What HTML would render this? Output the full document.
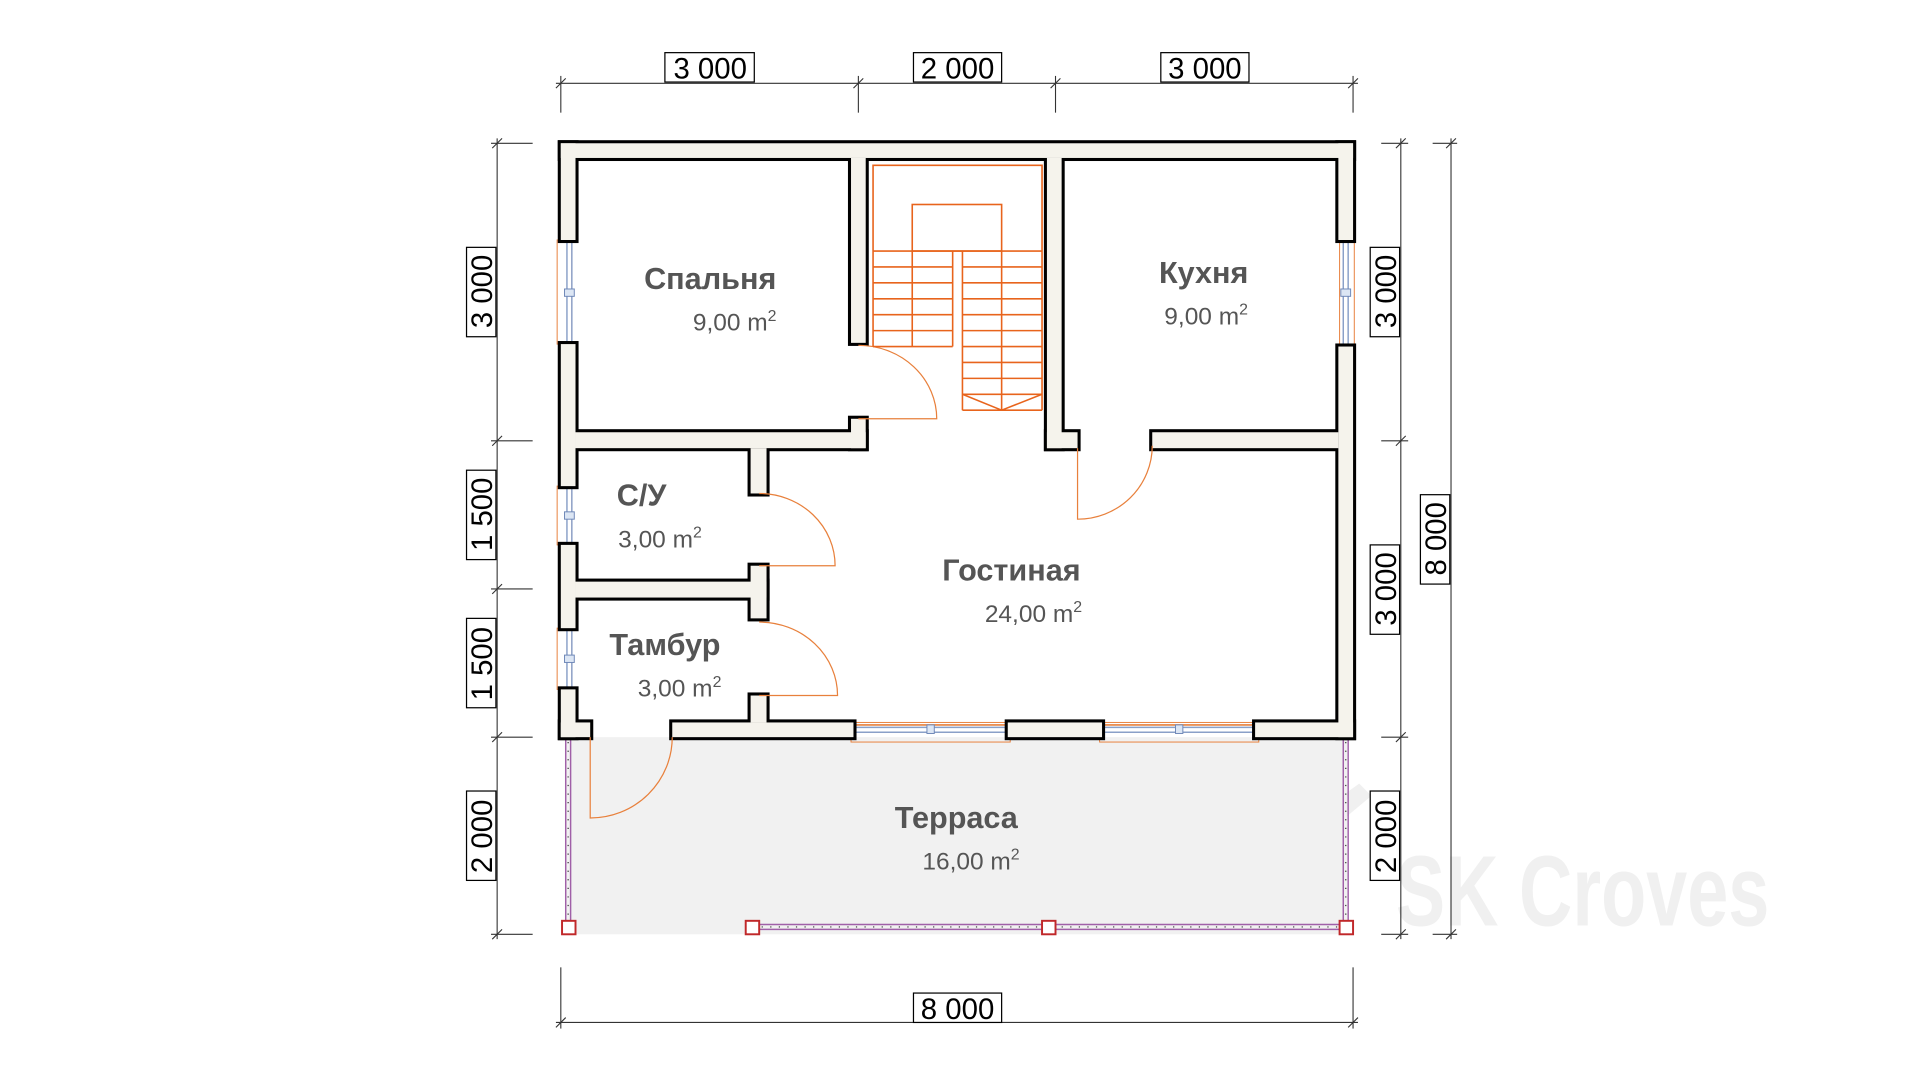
<!DOCTYPE html>
<html><head><meta charset="utf-8"><style>html,body{margin:0;padding:0;background:#fff;width:1920px;height:1080px;overflow:hidden}svg{display:block}</style></head>
<body>
<svg width="1920" height="1080" viewBox="0 0 1568 882" xmlns="http://www.w3.org/2000/svg" font-family="Liberation Sans, Arial, sans-serif">
<!-- watermark -->
<g fill="#f0f0f0">
<text x="1140" y="756" font-size="82" font-weight="bold" textLength="305" lengthAdjust="spacingAndGlyphs">SK Croves</text>
<polygon points="1040,690 1110,640 1120,650 1060,700 1060,755 1040,755"/>
</g>
<!-- terrace -->
<rect x="462" y="602" width="638" height="161" fill="#f1f1f1"/>
<g stroke="#a060a8" stroke-width="1.2" fill="none">
<line x1="462" y1="602" x2="462" y2="752"/><line x1="466" y1="602" x2="466" y2="752"/>
<line x1="1097" y1="602" x2="1097" y2="752"/><line x1="1101" y1="602" x2="1101" y2="752"/>
<line x1="619" y1="755" x2="1094" y2="755"/><line x1="619" y1="759" x2="1094" y2="759"/>
</g>
<g stroke="#555" stroke-width="1.2" stroke-dasharray="1 6">
<line x1="464" y1="606" x2="464" y2="750"/><line x1="1099" y1="606" x2="1099" y2="750"/><line x1="622" y1="757" x2="1092" y2="757"/>
</g>
<g fill="#fff" stroke="#c0282a" stroke-width="1.6">
<rect x="459" y="752" width="11" height="11"/><rect x="609" y="752" width="11" height="11"/><rect x="851" y="752" width="11" height="11"/><rect x="1094" y="752" width="11" height="11"/>
</g>
<!-- windows -->
<g stroke="#e8803c" stroke-width="0.8" fill="none">
<rect x="455" y="196" width="12" height="85"/><rect x="455" y="397" width="12" height="48"/><rect x="455" y="513" width="12" height="50"/>
<rect x="1094" y="196" width="12" height="87"/>
<rect x="695" y="590" width="130" height="16"/><rect x="898" y="590" width="130" height="16"/>
</g>
<g stroke="#8aa0c8" stroke-width="1.2" fill="none">
<line x1="463" y1="196" x2="463" y2="281"/><line x1="467" y1="196" x2="467" y2="281"/>
<line x1="463" y1="397" x2="463" y2="445"/><line x1="467" y1="397" x2="467" y2="445"/>
<line x1="463" y1="513" x2="463" y2="563"/><line x1="467" y1="513" x2="467" y2="563"/>
<line x1="1097" y1="196" x2="1097" y2="283"/><line x1="1101" y1="196" x2="1101" y2="283"/>
<line x1="697" y1="594" x2="823" y2="594"/><line x1="697" y1="598" x2="823" y2="598"/>
<line x1="900" y1="594" x2="1025" y2="594"/><line x1="900" y1="598" x2="1025" y2="598"/>
</g>
<g stroke="#e8803c" stroke-width="1.3"><line x1="697" y1="592" x2="823" y2="592"/><line x1="900" y1="592" x2="1025" y2="592"/></g>
<g fill="#dce6f4" stroke="#6f88b8" stroke-width="0.8">
<rect x="461" y="236" width="8" height="6"/><rect x="461" y="418" width="8" height="6"/><rect x="461" y="535" width="8" height="6"/><rect x="1095" y="236" width="8" height="6"/>
<rect x="757" y="592" width="6" height="7"/><rect x="960" y="592" width="6" height="7"/>
</g>
<!-- walls: stroke layer -->
<g stroke="#000" stroke-width="5" fill="#000" stroke-linejoin="miter">
<rect x="458" y="117" width="647" height="12"/>
<rect x="458" y="117" width="12" height="79"/><rect x="458" y="281" width="12" height="116"/><rect x="458" y="445" width="12" height="68"/><rect x="458" y="563" width="12" height="39"/>
<rect x="1093" y="117" width="12" height="79"/><rect x="1093" y="283" width="12" height="319"/>
<rect x="458" y="590" width="24" height="12"/><rect x="549" y="590" width="148" height="12"/><rect x="823" y="590" width="77" height="12"/><rect x="1025" y="590" width="80" height="12"/>
<rect x="695" y="129" width="12" height="151"/><rect x="695" y="342" width="12" height="24"/>
<rect x="470" y="353" width="237" height="13"/>
<rect x="855" y="129" width="12" height="237"/><rect x="855" y="353" width="25" height="13"/><rect x="941" y="353" width="152" height="13"/>
<rect x="613" y="366" width="13" height="37"/><rect x="613" y="462" width="13" height="43"/>
<rect x="470" y="475" width="156" height="13"/>
<rect x="613" y="568" width="13" height="22"/>
</g>
<g fill="#f5f3ec" stroke="none">
<rect x="458" y="117" width="647" height="12"/>
<rect x="458" y="117" width="12" height="79"/><rect x="458" y="281" width="12" height="116"/><rect x="458" y="445" width="12" height="68"/><rect x="458" y="563" width="12" height="39"/>
<rect x="1093" y="117" width="12" height="79"/><rect x="1093" y="283" width="12" height="319"/>
<rect x="458" y="590" width="24" height="12"/><rect x="549" y="590" width="148" height="12"/><rect x="823" y="590" width="77" height="12"/><rect x="1025" y="590" width="80" height="12"/>
<rect x="695" y="129" width="12" height="151"/><rect x="695" y="342" width="12" height="24"/>
<rect x="470" y="353" width="237" height="13"/>
<rect x="855" y="129" width="12" height="237"/><rect x="855" y="353" width="25" height="13"/><rect x="941" y="353" width="152" height="13"/>
<rect x="613" y="366" width="13" height="37"/><rect x="613" y="462" width="13" height="43"/>
<rect x="470" y="475" width="156" height="13"/>
<rect x="613" y="568" width="13" height="22"/>
</g>
<!-- doors -->
<g stroke="#e8803c" stroke-width="1" fill="none">
<path d="M701,342 H765 A64,60 0 0 0 701,282"/>
<path d="M880,366 V424 A61,60 0 0 0 941,364"/>
<path d="M620,462 H682 A62,59 0 0 0 620,403"/>
<path d="M620,568 H684 A64,60 0 0 0 620,508"/>
<path d="M482,602 V668 A67,66 0 0 0 549,602"/>
</g>
<!-- stairs -->
<g stroke="#e8641c" stroke-width="1.3" fill="none">
<path d="M713,283 V135 H851 V335"/>
<rect x="745" y="167" width="73" height="38"/>
<line x1="713" y1="205" x2="851" y2="205"/>
<line x1="745" y1="205" x2="745" y2="283"/><line x1="778" y1="205" x2="778" y2="283"/>
<line x1="786" y1="205" x2="786" y2="335"/><line x1="818" y1="205" x2="818" y2="335"/>
<path d="M713,218 H778 M713,231 H778 M713,244 H778 M713,257 H778 M713,270 H778 M713,283 H778"/>
<path d="M786,218 H851 M786,231 H851 M786,244 H851 M786,257 H851 M786,270 H851 M786,283 H851 M786,296 H851 M786,309 H851 M786,322 H851 M786,335 H851"/>
<path d="M786,322 L818,335 L851,322"/>
</g>
<!-- labels -->
<g fill="#555" text-anchor="middle">
<text x="580" y="236" font-size="25" font-weight="bold">Спальня</text>
<text x="600" y="270" font-size="20">9,00 m<tspan font-size="13" dy="-8">2</tspan></text>
<text x="983" y="231" font-size="25" font-weight="bold">Кухня</text>
<text x="985" y="265" font-size="20">9,00 m<tspan font-size="13" dy="-8">2</tspan></text>
<text x="524" y="413" font-size="25" font-weight="bold">С/У</text>
<text x="539" y="447" font-size="20">3,00 m<tspan font-size="13" dy="-8">2</tspan></text>
<text x="826" y="474" font-size="25" font-weight="bold">Гостиная</text>
<text x="844" y="508" font-size="20">24,00 m<tspan font-size="13" dy="-8">2</tspan></text>
<text x="543" y="535" font-size="25" font-weight="bold">Тамбур</text>
<text x="555" y="569" font-size="20">3,00 m<tspan font-size="13" dy="-8">2</tspan></text>
<text x="781" y="676" font-size="25" font-weight="bold">Терраса</text>
<text x="793" y="710" font-size="20">16,00 m<tspan font-size="13" dy="-8">2</tspan></text>
</g>
<!-- dimensions -->
<g stroke="#333" stroke-width="0.9" fill="none">
<line x1="454" y1="68" x2="1109" y2="68"/>
<line x1="458" y1="62" x2="458" y2="92"/><line x1="701" y1="62" x2="701" y2="92"/><line x1="862" y1="62" x2="862" y2="92"/><line x1="1105" y1="62" x2="1105" y2="92"/>
<path d="M454,72 L462,64 M697,72 L705,64 M858,72 L866,64 M1101,72 L1109,64"/>
<line x1="454" y1="835" x2="1109" y2="835"/>
<line x1="458" y1="790" x2="458" y2="840"/><line x1="1105" y1="790" x2="1105" y2="840"/>
<path d="M454,839 L462,831 M1101,839 L1109,831"/>
<line x1="406" y1="113" x2="406" y2="767"/>
<path d="M401,117 H435 M401,360 H435 M401,481 H435 M401,602 H435 M401,763 H435"/>
<path d="M402,121 L410,113 M402,364 L410,356 M402,485 L410,477 M402,606 L410,598 M402,767 L410,759"/>
<line x1="1144" y1="113" x2="1144" y2="767"/>
<path d="M1128,117 H1150 M1128,360 H1150 M1128,602 H1150 M1128,763 H1150"/>
<path d="M1140,121 L1148,113 M1140,364 L1148,356 M1140,606 L1148,598 M1140,767 L1148,759"/>
<line x1="1185" y1="113" x2="1185" y2="767"/>
<path d="M1170,117 H1190 M1170,763 H1190 M1181,121 L1189,113 M1181,767 L1189,759"/>
</g>
<g font-size="24" fill="#000" text-anchor="middle">
<g stroke="#000" stroke-width="1" fill="#fff">
<rect x="543" y="43" width="73" height="24"/><rect x="746" y="43" width="72" height="24"/><rect x="948" y="43" width="72" height="24"/>
<rect x="746" y="811" width="72" height="24"/>
<rect x="381" y="202" width="24" height="73"/><rect x="381" y="384" width="24" height="73"/><rect x="381" y="505" width="24" height="73"/><rect x="381" y="646" width="24" height="73"/>
<rect x="1119" y="202" width="24" height="73"/><rect x="1119" y="445" width="24" height="73"/><rect x="1119" y="646" width="24" height="73"/>
<rect x="1160" y="404" width="24" height="73"/>
</g>
<text x="580" y="64">3 000</text><text x="782" y="64">2 000</text><text x="984" y="64">3 000</text>
<text x="782" y="832">8 000</text>
<text transform="translate(402,238) rotate(-90)">3 000</text>
<text transform="translate(402,420) rotate(-90)">1 500</text>
<text transform="translate(402,542) rotate(-90)">1 500</text>
<text transform="translate(402,683) rotate(-90)">2 000</text>
<text transform="translate(1140,238) rotate(-90)">3 000</text>
<text transform="translate(1140,481) rotate(-90)">3 000</text>
<text transform="translate(1140,683) rotate(-90)">2 000</text>
<text transform="translate(1181,440) rotate(-90)">8 000</text>
</g>
</svg>
</body></html>
